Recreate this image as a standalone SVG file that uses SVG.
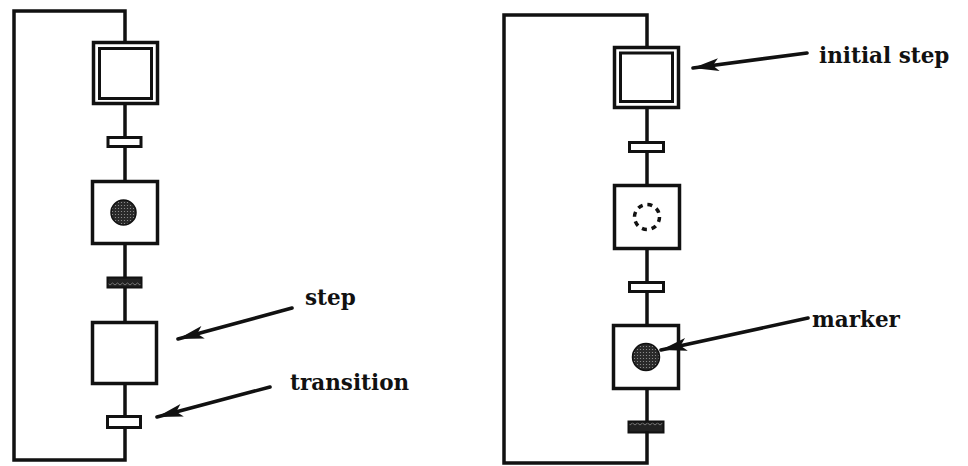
<svg xmlns="http://www.w3.org/2000/svg" width="968" height="466" viewBox="0 0 968 466">
<style>
.ln{fill:none;stroke:#111;stroke-width:3.5;stroke-linecap:square;stroke-linejoin:miter}
.box{fill:#fff;stroke:#111;stroke-width:3.5}
.inner{fill:#fff;stroke:#111;stroke-width:3}
.tr{fill:#fff;stroke:#111;stroke-width:3}
.trf{fill:url(#zig);stroke:#111;stroke-width:2}
.mk{fill:url(#dots);stroke:#111;stroke-width:1.5}
.dash{fill:none;stroke:#111;stroke-width:3.5;stroke-dasharray:5 4.82}
.arr{fill:none;stroke:#111;stroke-width:3.6;stroke-linecap:round}
.lbl{font-family:"DejaVu Serif","Liberation Serif",serif;font-weight:bold;font-size:21.5px;fill:#111}
</style>
<defs>
<pattern id="dots" width="3" height="3" patternUnits="userSpaceOnUse">
<rect width="3" height="3" fill="#2a2a2a"/>
<circle cx="1.5" cy="1.5" r="0.6" fill="#999"/>
</pattern>
<pattern id="zig" width="5" height="10" patternUnits="userSpaceOnUse">
<rect width="5" height="10" fill="#222"/>
<path d="M0,5 L2.5,3 L5,5" fill="none" stroke="#888" stroke-width="0.8"/>
</pattern>
<marker id="ah" markerUnits="userSpaceOnUse" markerWidth="28" markerHeight="16" refX="26" refY="8" orient="auto">
<path d="M0,1.5 L26,8 L0,14.5 L6,8 Z" fill="#111"/>
</marker>
</defs>

<g id="left-initial-step">
<rect class="box" x="93.5" y="42.5" width="64" height="61"/>
<rect class="inner" x="99.5" y="48.5" width="52" height="50"/>
</g>
<g id="left-transition-1"><rect class="tr" x="108" y="137.5" width="33" height="9"/></g>
<g id="left-step-2">
<rect class="box" x="92.5" y="181.5" width="65" height="62"/>
<circle class="mk" cx="123.5" cy="212.5" r="12.5"/>
</g>
<g id="left-transition-2"><rect class="trf" x="107.5" y="277.5" width="34" height="10"/></g>
<g id="left-step-3"><rect class="box" x="92.5" y="322.5" width="64" height="61"/></g>
<g id="left-transition-3"><rect class="tr" x="107.5" y="416.5" width="33" height="11"/></g>

<g id="right-initial-step">
<rect class="box" x="614.5" y="47.5" width="64" height="60"/>
<rect class="inner" x="620.5" y="53" width="52" height="48.5"/>
</g>
<g id="right-transition-1"><rect class="tr" x="629.5" y="142.5" width="34" height="9"/></g>
<g id="right-step-2">
<rect class="box" x="614.5" y="185.5" width="65" height="63"/>
<circle class="dash" cx="647" cy="217" r="12.5"/>
</g>
<g id="right-transition-2"><rect class="tr" x="629.5" y="282.5" width="34" height="9"/></g>
<g id="right-step-3">
<rect class="box" x="613.5" y="325.5" width="65" height="63"/>
<circle class="mk" cx="646" cy="357" r="13.5"/>
</g>
<g id="right-transition-3"><rect class="trf" x="628.5" y="421.5" width="35" height="11"/></g>

<g id="connectors">
<path class="ln" d="M125,428 V460 H14 V11 H125 V40.5"/>
<path class="ln" d="M125,105.5 V135.5 M125,148.5 V179.5 M125,245.5 V276.5 M125,288.5 V320.5 M125,385.5 V414.5"/>
<path class="ln" d="M647,433 V463 H504 V15 H647 V45.5"/>
<path class="ln" d="M647,109.5 V140.5 M647,153.5 V183.5 M647,250.5 V280.5 M647,293.5 V323.5 M647,390.5 V420.5"/>
<line class="arr" x1="292" y1="308" x2="178" y2="339" marker-end="url(#ah)"/>
<line class="arr" x1="270" y1="387" x2="157" y2="417" marker-end="url(#ah)"/>
<line class="arr" x1="807" y1="53" x2="693" y2="68" marker-end="url(#ah)"/>
<line class="arr" x1="808" y1="318" x2="661" y2="350" marker-end="url(#ah)"/>
</g>

<g id="labels">
<text class="lbl" x="305" y="305">step</text>
<text class="lbl" x="290" y="390">transition</text>
<text class="lbl" x="819" y="63">initial step</text>
<text class="lbl" x="812" y="327">marker</text>
</g>
</svg>
